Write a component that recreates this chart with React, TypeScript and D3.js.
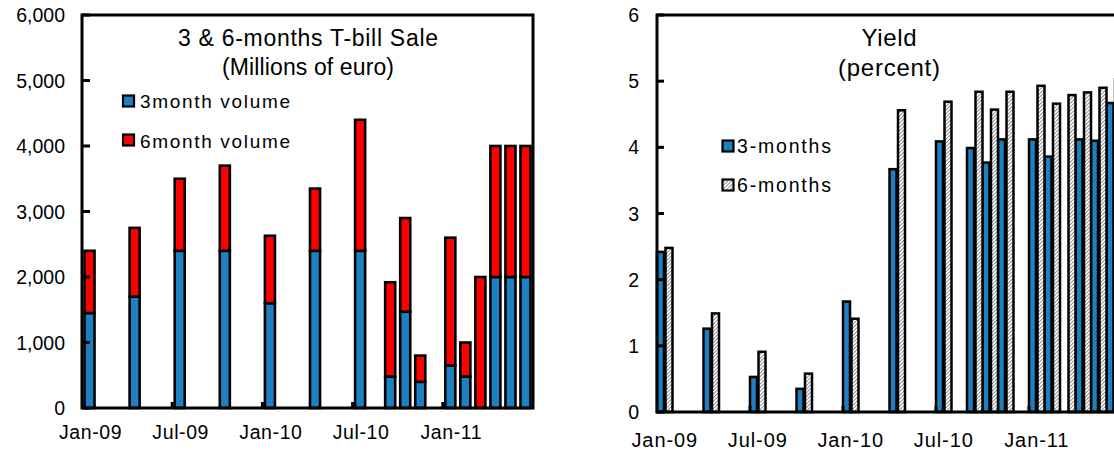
import React from "react";
import * as d3 from "d3";

const months = [
  "Jan-09", "Feb-09", "Mar-09", "Apr-09", "May-09", "Jun-09",
  "Jul-09", "Aug-09", "Sep-09", "Oct-09", "Nov-09", "Dec-09",
  "Jan-10", "Feb-10", "Mar-10", "Apr-10", "May-10", "Jun-10",
  "Jul-10", "Aug-10", "Sep-10", "Oct-10", "Nov-10", "Dec-10",
  "Jan-11", "Feb-11", "Mar-11", "Apr-11", "May-11", "Jun-11",
];
const xTickLabels = ["Jan-09", "Jul-09", "Jan-10", "Jul-10", "Jan-11"];
const xTickMarks = ["Jul-09", "Jan-10", "Jul-10", "Jan-11"];

// Millions of euro
const volume3m = [
  1450, null, null, 1700, null, null, 2400, null, null, 2400, null, null,
  1600, null, null, 2400, null, null, 2400, null, 480, 1470, 400, null,
  650, 480, 0, 2000, 2000, 2000,
];
const volume6m = [
  950, null, null, 1050, null, null, 1100, null, null, 1300, null, null,
  1030, null, null, 950, null, null, 2000, null, 1440, 1430, 400, null,
  1950, 520, 2000, 2000, 2000, 2000,
];
// percent
const yield3m = [
  2.42, null, null, 1.26, null, null, 0.53, null, null, 0.35, null, null,
  1.67, null, null, 3.67, null, null, 4.09, null, 3.99, 3.77, 4.12, null,
  4.12, 3.86, null, 4.12, 4.1, 4.67,
];
const yield6m = [
  2.48, null, null, 1.49, null, null, 0.91, null, null, 0.58, null, null,
  1.41, null, null, 4.56, null, null, 4.69, null, 4.84, 4.57, 4.84, null,
  4.93, 4.66, 4.79, 4.83, 4.9, 5.03,
];
const volumeTicks = [0, 1000, 2000, 3000, 4000, 5000, 6000];
const yieldTicks = [0, 1, 2, 3, 4, 5, 6];

const FONT = "'Liberation Sans', Arial, Helvetica, sans-serif";
const BLUE = "#1F80C1";
const RED = "#FF0000";

export default function App() {
  const fmt = d3.format(",");

  // Left chart scales
  const xL = d3.scaleBand<string>().domain(months).range([82, 533]);
  const yL = d3.scaleLinear().domain([0, 6000]).range([408, 15]);
  const bwL = xL.bandwidth();

  // Right chart scales
  const xR = d3.scaleBand<string>().domain(months).range([657, 657 + 15.5 * months.length]);
  const yR = d3.scaleLinear().domain([0, 6]).range([412, 15]);
  const bwR = xR.bandwidth();

  return (
    <div style={{ position: "absolute", left: 0, top: 0 }}>
      <svg width={1114} height={450} style={{ display: "block", fontFamily: FONT }}>
        <defs>
          <pattern id="hatch" patternUnits="userSpaceOnUse" width={2.6} height={2.6} patternTransform="rotate(45)">
            <rect width={2.6} height={2.6} fill="#ffffff" />
            <line x1={0} y1={0} x2={0} y2={2.6} stroke="#6e6e6e" strokeWidth={1.5} />
          </pattern>
        </defs>
        <rect width={1114} height={450} fill="#fff" />

        {/* ===== LEFT CHART ===== */}
        <g>
          {months.map((m, i) => {
            const v3 = volume3m[i];
            const v6 = volume6m[i];
            if (v3 == null && v6 == null) return null;
            const x = (xL(m) as number) + 2.5;
            const w = bwL - 5;
            const a = v3 ?? 0;
            const b = v6 ?? 0;
            return (
              <g key={m}>
                {a > 0 && (
                  <rect x={x} y={yL(a)} width={w} height={yL(0) - yL(a)} fill={BLUE} stroke="#000" strokeWidth={2.6} />
                )}
                {b > 0 && (
                  <rect x={x} y={yL(a + b)} width={w} height={yL(a) - yL(a + b)} fill={RED} stroke="#000" strokeWidth={2.6} />
                )}
              </g>
            );
          })}
          {/* frame */}
          <rect x={82} y={15} width={451} height={393} fill="none" stroke="#000" strokeWidth={3} />
          {volumeTicks.map((t) => (
            <g key={t}>
              <line x1={82} x2={90} y1={yL(t)} y2={yL(t)} stroke="#000" strokeWidth={3} />
              <text x={65} y={yL(t) + 7} textAnchor="end" fontSize={19.5} fill="#000">
                {fmt(t)}
              </text>
            </g>
          ))}
          {xTickMarks.map((m) => (
            <line key={m} x1={xL(m) as number} x2={xL(m) as number} y1={408} y2={402} stroke="#000" strokeWidth={3} />
          ))}
          {xTickLabels.map((m) => (
            <text key={m} x={(xL(m) as number) + bwL / 2 + 1} y={439} textAnchor="middle" fontSize={19.5} letterSpacing={0.6} fill="#000">
              {m}
            </text>
          ))}
          <text x={308} y={46} textAnchor="middle" fontSize={23} textLength={260} lengthAdjust="spacing" fill="#000">
            3 &amp; 6-months T-bill Sale
          </text>
          <text x={308} y={75} textAnchor="middle" fontSize={23} textLength={172} lengthAdjust="spacing" fill="#000">
            (Millions of euro)
          </text>
          <rect x={123} y={95.5} width={11} height={11} fill={BLUE} stroke="#000" strokeWidth={2.2} />
          <text x={140} y={108} fontSize={19} textLength={150} lengthAdjust="spacing" fill="#000">
            3month volume
          </text>
          <rect x={123} y={134.5} width={11} height={11} fill={RED} stroke="#000" strokeWidth={2.2} />
          <text x={140} y={147.5} fontSize={19} textLength={150} lengthAdjust="spacing" fill="#000">
            6month volume
          </text>
        </g>

        {/* ===== RIGHT CHART ===== */}
        <g>
          {months.map((m, i) => {
            const v = yield3m[i];
            if (v == null) return null;
            const c = (xR(m) as number) + bwR / 2;
            return <rect key={m} x={c - 7.75} y={yR(v)} width={7} height={yR(0) - yR(v)} fill={BLUE} stroke="#000" strokeWidth={2.5} />;
          })}
          {months.map((m, i) => {
            const v = yield6m[i];
            if (v == null) return null;
            const c = (xR(m) as number) + bwR / 2;
            return <rect key={m} x={c + 0.75} y={yR(v)} width={7} height={yR(0) - yR(v)} fill="url(#hatch)" stroke="#000" strokeWidth={2.5} />;
          })}
          <rect x={657} y={15} width={600} height={397} fill="none" stroke="#000" strokeWidth={3} />
          {yieldTicks.map((t) => (
            <g key={t}>
              <line x1={657} x2={664} y1={yR(t)} y2={yR(t)} stroke="#000" strokeWidth={3} />
              <text x={639} y={yR(t) + 7} textAnchor="end" fontSize={19.5} fill="#000">
                {t}
              </text>
            </g>
          ))}
          {xTickMarks.map((m) => (
            <line key={m} x1={xR(m) as number} x2={xR(m) as number} y1={412} y2={406} stroke="#000" strokeWidth={3} />
          ))}
          {xTickLabels.map((m) => (
            <text key={m} x={(xR(m) as number) + bwR / 2} y={447} textAnchor="middle" fontSize={20} letterSpacing={0.9} fill="#000">
              {m}
            </text>
          ))}
          <text x={889} y={46} textAnchor="middle" fontSize={24} textLength={55} lengthAdjust="spacing" fill="#000">
            Yield
          </text>
          <text x={889} y={76} textAnchor="middle" fontSize={24} textLength={102} lengthAdjust="spacing" fill="#000">
            (percent)
          </text>
          <rect x={722.5} y={140.5} width={11} height={11} fill={BLUE} stroke="#000" strokeWidth={2.2} />
          <text x={737} y={153} fontSize={19.5} textLength={94} lengthAdjust="spacing" fill="#000">
            3-months
          </text>
          <rect x={722.5} y={179.5} width={11} height={11} fill="url(#hatch)" stroke="#000" strokeWidth={2.2} />
          <text x={737} y={192} fontSize={19.5} textLength={94} lengthAdjust="spacing" fill="#000">
            6-months
          </text>
        </g>
      </svg>
    </div>
  );
}
